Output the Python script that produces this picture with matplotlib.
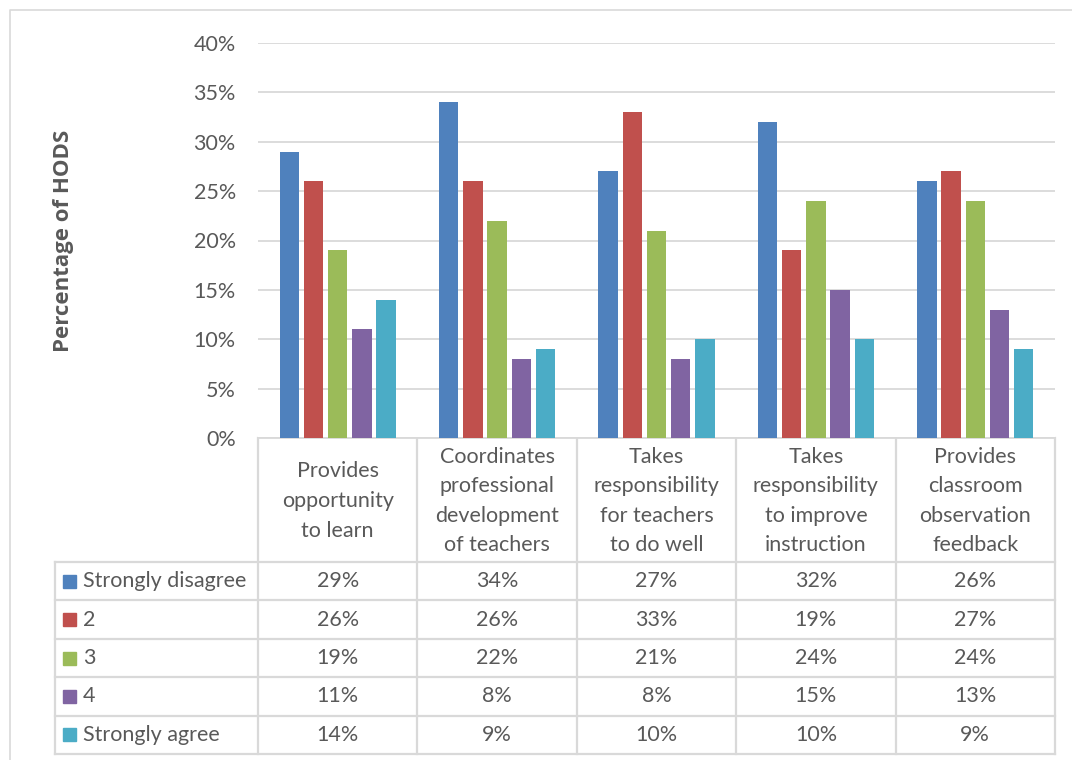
import matplotlib.pyplot as plt
import numpy as np

categories = ["Provides\nopportunity\nto learn",
              "Coordinates\nprofessional\ndevelopment\nof teachers",
              "Takes\nresponsibility\nfor teachers\nto do well",
              "Takes\nresponsibility\nto improve\ninstruction",
              "Provides\nclassroom\nobservation\nfeedback"]
series_names = ["Strongly disagree", "2", "3", "4", "Strongly agree"]
strongly_disagree = [29, 34, 27, 32, 26]
two = [26, 26, 33, 19, 27]
three = [19, 22, 21, 24, 24]
four = [11, 8, 8, 15, 13]
strongly_agree = [14, 9, 10, 10, 9]
colors = ["#4f81bd", "#c0504d", "#9bbb59", "#8064a2", "#4bacc6"]

values = [strongly_disagree, two, three, four, strongly_agree]

plt.rcParams['font.family'] = ['Lato', 'DejaVu Sans']
txt = '#595959'
grid = '#d9d9d9'
W, H = 1072, 760
fs = 15.5

fig = plt.figure(figsize=(W / 100, H / 100), dpi=100)

# pixel-space background axes for table and border
bg = fig.add_axes([0, 0, 1, 1])
bg.set_xlim(0, W)
bg.set_ylim(H, 0)
bg.axis('off')

# plot area in pixels
x0, x1, ytop, ybot = 258, 1055, 43, 438
ax = fig.add_axes([x0 / W, 1 - ybot / H, (x1 - x0) / W, (ybot - ytop) / H])

n = len(categories)
x = np.arange(n)
step = 0.152
width = 0.122
for i, (vals, c) in enumerate(zip(values, colors)):
    ax.bar(x + (i - 2) * step, vals, width, color=c, zorder=3)

ax.set_xlim(-0.5, n - 0.5)
ax.set_ylim(0, 40)
ax.set_yticks(range(0, 41, 5))
ax.set_yticklabels([f"{v}%" for v in range(0, 41, 5)], color=txt, fontsize=fs)
ax.yaxis.grid(True, color=grid, linewidth=1.3, zorder=0)
ax.set_xticks([])
ax.tick_params(axis='y', length=0, pad=16)
for s in ['top', 'right', 'left']:
    ax.spines[s].set_visible(False)
ax.spines['bottom'].set_color(grid)
ax.spines['bottom'].set_linewidth(1.3)
ax.set_ylabel("Percentage of HODS", color=txt, fontsize=16, fontweight='bold',
              family=['Open Sans', 'DejaVu Sans'], labelpad=0)
ax.yaxis.set_label_coords(-(x0 - 74) / (x1 - x0), 0.5)

# data table
colw = (x1 - x0) / n
tleft = 55
hdr_bot = 562
rowh = (754 - hdr_bot) / 5
rows_y = [hdr_bot + k * rowh for k in range(6)]
lc = '#d9d9d9'
lw = 1.6
for k in range(n + 1):
    bg.plot([x0 + k * colw] * 2, [ybot, rows_y[-1]], color=lc, lw=lw)
bg.plot([tleft, tleft], [hdr_bot, rows_y[-1]], color=lc, lw=lw)
for yy in rows_y:
    bg.plot([tleft, x1], [yy, yy], color=lc, lw=lw)

for j, cat in enumerate(categories):
    bg.text(x0 + (j + 0.5) * colw, (ybot + hdr_bot) / 2 + 1, cat, ha='center', va='center',
            color=txt, fontsize=fs, linespacing=1.6)

for i, name in enumerate(series_names):
    yc = (rows_y[i] + rows_y[i + 1]) / 2
    bg.add_patch(plt.Rectangle((63, yc - 6.5), 13, 13, color=colors[i]))
    bg.text(83, yc, name, ha='left', va='center', color=txt, fontsize=fs)
    for j, v in enumerate(values[i]):
        bg.text(x0 + (j + 0.5) * colw, yc, f"{v}%", ha='center', va='center', color=txt, fontsize=fs)

# outer chart border
bg.plot([10, 10, W], [H, 10, 10], color=lc, lw=1.2)

fig.savefig("out.png", dpi=100)
